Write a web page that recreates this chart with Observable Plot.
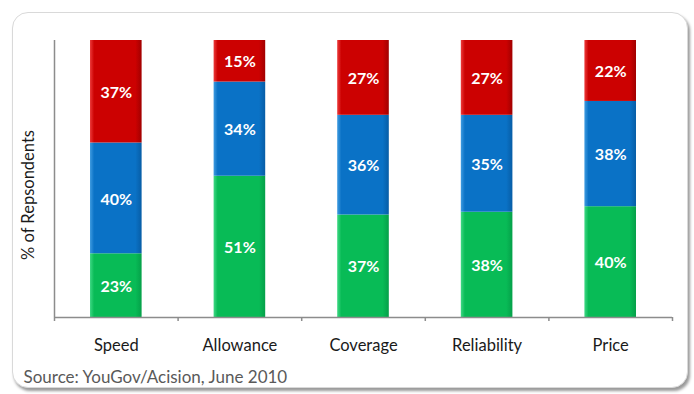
<!DOCTYPE html>
<html>
<head>
<meta charset="utf-8">
<script src="https://cdn.jsdelivr.net/npm/d3@7"></script>
<script src="https://cdn.jsdelivr.net/npm/@observablehq/plot@0.6"></script>
<style>
  html, body { margin: 0; padding: 0; background: #fff; }
  #wrap { position: relative; width: 694px; height: 394px; overflow: hidden; }
  #panel {
    position: absolute; left: 12px; top: 12px; width: 674px; height: 374px;
    border: 1px solid #d9d9d9; border-radius: 16px;
    box-shadow: 2px 3px 3px rgba(0,0,0,0.4);
    background: #fff;
  }
  #chart { position: absolute; left: 0; top: 0; }
</style>
</head>
<body>
<div id="wrap">
  <div id="panel"></div>
  <div id="chart"></div>
</div>
<script>
// Share of respondents per attribute, split into three stacked groups
const categories = ["Speed", "Allowance", "Coverage", "Reliability", "Price"];
const bottomShare = [23, 51, 37, 38, 40];
const middleShare = [40, 34, 36, 35, 38];
const topShare = [37, 15, 27, 27, 22];
const seriesNames = ["bottom", "middle", "top"];
const seriesColors = ["url(#grad-green)", "url(#grad-blue)", "url(#grad-red)"];
const yLabel = "% of Repsondents";
const sourceNote = "Source: YouGov/Acision, June 2010";

// Long-format table, bottom segment first so it stacks from zero
const rows = [];
[bottomShare, middleShare, topShare].forEach((values, s) => {
  values.forEach((v, i) => {
    rows.push({category: categories[i], i, j: i + 1, mid: i + 0.5, series: seriesNames[s], value: v});
  });
});

const font = "Lato, 'Open Sans', sans-serif";

const plot = Plot.plot({
  width: 694,
  height: 394,
  marginLeft: 54,
  marginRight: 22,
  marginTop: 40,
  marginBottom: 77,
  style: {fontFamily: font, background: "transparent", overflow: "visible"},
  x: {domain: [0, categories.length], axis: null},
  y: {domain: [0, 100], axis: null},
  color: {type: "ordinal", domain: seriesNames, range: seriesColors},
  marks: [
    Plot.rect(rows, Plot.stackY({
      x1: "i", x2: "j", y: "value", fill: "series",
      insetLeft: 36, insetRight: 36
    })),
    Plot.text(rows, Plot.stackY({
      x: "mid", y: "value", text: d => d.value + "%",
      fill: "white", fontWeight: "bold", fontSize: 16, dy: 1
    })),
    Plot.ruleY([0], {stroke: "#8c8c8c", strokeWidth: 1.5}),
    Plot.ruleX([0], {stroke: "#8c8c8c", strokeWidth: 1.5}),
    Plot.axisX(d3.range(categories.length + 1), {
      tickSize: 4, tickFormat: () => "", stroke: "#8c8c8c", strokeWidth: 1.5
    }),
    Plot.text(categories, {
      x: (d, i) => i + 0.5, frameAnchor: "bottom", dy: 33,
      fill: "#1a1a1a", fontSize: 16.5
    }),
    Plot.text([yLabel], {
      frameAnchor: "left", textAnchor: "middle", rotate: -90, dx: -26, dy: 16,
      fill: "#1a1a1a", fontSize: 16.5
    }),
    Plot.text([sourceNote], {
      frameAnchor: "bottom-left", textAnchor: "start", dx: -31, dy: 65,
      fill: "#595959", fontSize: 17
    })
  ]
});

// Bevelled fills for the bar segments
const defs = d3.select(plot).insert("defs", ":first-child");
const bevel = [
  ["grad-green", "#3fd884", "#08bb56", "#05a049"],
  ["grad-blue", "#3f9be0", "#0a72c6", "#075da6"],
  ["grad-red", "#ec3b3b", "#cc0101", "#a10000"]
];
for (const [id, light, base, dark] of bevel) {
  const g = defs.append("linearGradient").attr("id", id)
    .attr("x1", 0).attr("x2", 1).attr("y1", 0).attr("y2", 0);
  g.append("stop").attr("offset", "0%").attr("stop-color", light);
  g.append("stop").attr("offset", "8%").attr("stop-color", base);
  g.append("stop").attr("offset", "88%").attr("stop-color", base);
  g.append("stop").attr("offset", "100%").attr("stop-color", dark);
}

document.getElementById("chart").appendChild(plot);
</script>
</body>
</html>
